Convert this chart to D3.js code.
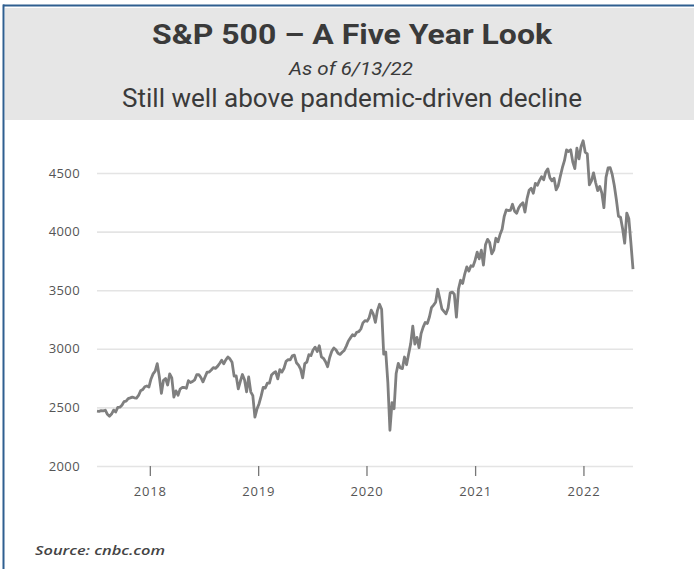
<!DOCTYPE html>
<html>
<head>
<meta charset="utf-8">
<script src="https://cdn.jsdelivr.net/npm/d3@7"></script>
<style>
  html, body { margin: 0; padding: 0; background: #ffffff; }
  svg { display: block; }
</style>
</head>
<body>
<svg id="chart" width="694" height="569"></svg>
<script>
// ---- Data (weekly S&P 500 closes) ----
const startDate = "2017-07-07";
const closes2017 = [2468, 2466, 2472, 2470, 2476, 2441, 2425, 2443, 2477, 2461, 2500, 2502, 2519, 2549, 2553, 2575, 2581, 2588, 2582, 2579, 2602, 2642, 2652, 2676, 2683, 2674];
const closes2018 = [2743, 2786, 2810, 2873, 2762, 2620, 2732, 2747, 2691, 2786, 2752, 2588, 2641, 2604, 2656, 2670, 2670, 2663, 2728, 2712, 2721, 2735, 2779, 2780, 2755, 2718, 2760, 2801, 2802, 2819, 2840, 2833, 2850, 2875, 2902, 2872, 2905, 2930, 2914, 2886, 2767, 2768, 2658, 2723, 2781, 2736, 2633, 2760, 2633, 2600, 2417, 2486];
const closes2019 = [2532, 2596, 2671, 2665, 2707, 2708, 2776, 2793, 2804, 2743, 2822, 2801, 2834, 2893, 2907, 2905, 2940, 2946, 2881, 2860, 2826, 2752, 2873, 2887, 2950, 2942, 2990, 3014, 2977, 3026, 2932, 2919, 2889, 2847, 2926, 2979, 3007, 2992, 2962, 2952, 2970, 2986, 3023, 3067, 3093, 3120, 3110, 3141, 3146, 3169, 3221, 3240];
const closes2020 = [3235, 3265, 3330, 3295, 3226, 3328, 3380, 3338, 2954, 2972, 2711, 2305, 2541, 2489, 2790, 2875, 2837, 2831, 2930, 2864, 2955, 3044, 3194, 3041, 3098, 3009, 3130, 3185, 3225, 3216, 3271, 3351, 3373, 3397, 3508, 3427, 3341, 3319, 3298, 3348, 3477, 3484, 3465, 3270, 3510, 3585, 3558, 3638, 3699, 3663, 3709, 3703];
const closes2021 = [3756, 3825, 3768, 3841, 3714, 3887, 3934, 3907, 3811, 3842, 3943, 3913, 3975, 4020, 4129, 4185, 4180, 4181, 4233, 4174, 4156, 4204, 4230, 4247, 4166, 4281, 4352, 4370, 4327, 4412, 4395, 4437, 4468, 4442, 4509, 4535, 4459, 4433, 4455, 4357, 4391, 4471, 4545, 4605, 4697, 4683, 4698, 4595, 4538, 4712, 4620, 4726, 4775];
const closes2022 = [4677, 4663, 4398, 4432, 4501, 4419, 4349, 4385, 4329, 4204, 4463, 4543, 4546, 4488, 4393, 4272, 4132, 4123, 4024, 3901, 4158, 4109, 3901, 3680];

const yTickValues = [2000, 2500, 3000, 3500, 4000, 4500];
const xTickYears = [2018, 2019, 2020, 2021, 2022];

const titleText = "S&P 500 \u2013 A Five Year Look";
const dateText = "As of 6/13/22";
const subtitleText = "Still well above pandemic-driven decline";
const sourceText = "Source: cnbc.com";

// ---- Build series ----
const closes = [].concat(closes2017, closes2018, closes2019, closes2020, closes2021, closes2022);
const t0 = d3.timeParse("%Y-%m-%d")(startDate);
const series = closes.map((v, i) => ({ date: d3.timeWeek.offset(t0, i), value: v }));

const svg = d3.select("#chart");

// ---- Frame & header ----
svg.append("rect").attr("x", 5).attr("y", 8).attr("width", 689).attr("height", 112).attr("fill", "#e6e6e6");
svg.append("line").attr("x1", 3).attr("x2", 694).attr("y1", 5.5).attr("y2", 5.5).attr("stroke", "#2f5f90").attr("stroke-width", 2);
svg.append("line").attr("x1", 3.5).attr("x2", 3.5).attr("y1", 4.5).attr("y2", 569).attr("stroke", "#2f5f90").attr("stroke-width", 2);

svg.append("text").attr("x", 352).attr("y", 44)
  .attr("text-anchor", "middle")
  .attr("font-family", "Roboto, 'Liberation Sans', sans-serif")
  .attr("font-weight", 700).attr("font-size", 27).attr("fill", "#3a3a3a")
  .attr("textLength", 400).attr("lengthAdjust", "spacingAndGlyphs")
  .text(titleText);

svg.append("text").attr("x", 351).attr("y", 75)
  .attr("text-anchor", "middle")
  .attr("font-family", "Roboto, 'Liberation Sans', sans-serif")
  .attr("font-style", "italic").attr("font-size", 18).attr("fill", "#3a3a3a")
  .attr("textLength", 124).attr("lengthAdjust", "spacingAndGlyphs")
  .text(dateText);

svg.append("text").attr("x", 352).attr("y", 107)
  .attr("text-anchor", "middle")
  .attr("font-family", "Roboto, 'Liberation Sans', sans-serif")
  .attr("font-size", 25).attr("fill", "#3a3a3a")
  .attr("textLength", 460).attr("lengthAdjust", "spacingAndGlyphs")
  .text(subtitleText);

// ---- Scales ----
const x = d3.scaleTime()
  .domain(d3.extent(series, d => d.date))
  .range([97, 633]);
const y = d3.scaleLinear().domain([2000, 4500]).range([466, 173]);

// ---- Gridlines ----
const grid = d3.axisLeft(y).tickValues(yTickValues).tickSize(-(633 - 97)).tickFormat("");
const gg = svg.append("g").attr("transform", "translate(97,0)").call(grid);
gg.select(".domain").remove();
gg.selectAll(".tick line").attr("stroke", "#e4e4e4").attr("stroke-width", 1.6);

// ---- Y labels ----
const yAxis = d3.axisLeft(y).tickValues(yTickValues).tickSize(0).tickPadding(17).tickFormat(d3.format("d"));
const gy = svg.append("g").attr("transform", "translate(97,0)").call(yAxis);
gy.select(".domain").remove();
gy.selectAll(".tick text")
  .attr("font-family", "'Open Sans', 'DejaVu Sans', sans-serif")
  .attr("font-size", 13).attr("letter-spacing", 0.4).attr("fill", "#555");

// ---- X axis ----
const xAxis = d3.axisBottom(x)
  .tickValues(xTickYears.map(yr => new Date(yr, 0, 1)))
  .tickSize(10).tickPadding(11)
  .tickFormat(d3.timeFormat("%Y"));
const gx = svg.append("g").attr("transform", "translate(0,466)").call(xAxis);
gx.select(".domain").remove();
gx.selectAll(".tick line").attr("stroke", "#777").attr("stroke-width", 1.3);
gx.selectAll(".tick text")
  .attr("font-family", "'Open Sans', 'DejaVu Sans', sans-serif")
  .attr("font-size", 13).attr("letter-spacing", 0.8).attr("fill", "#555");

// ---- Line ----
const line = d3.line().x(d => x(d.date)).y(d => y(d.value));
svg.append("path").datum(series)
  .attr("d", line)
  .attr("fill", "none")
  .attr("stroke", "#7f7f7f")
  .attr("stroke-width", 2.8)
  .attr("stroke-linejoin", "round");

// ---- Source ----
svg.append("text").attr("x", 35).attr("y", 555)
  .attr("font-family", "'Open Sans', 'DejaVu Sans', sans-serif")
  .attr("font-style", "italic").attr("font-weight", 600)
  .attr("font-size", 13).attr("fill", "#444")
  .attr("textLength", 130).attr("lengthAdjust", "spacingAndGlyphs")
  .text(sourceText);
</script>
</body>
</html>
